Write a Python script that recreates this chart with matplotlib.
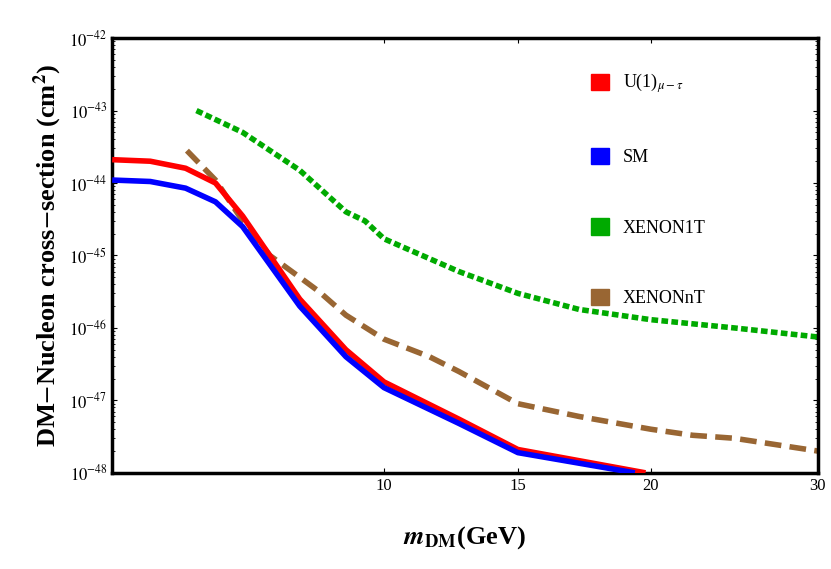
import numpy as np
import matplotlib
matplotlib.use("Agg")
import matplotlib.pyplot as plt
from matplotlib.patches import Patch

plt.rcParams["font.family"] = "Liberation Serif"
plt.rcParams["mathtext.fontset"] = "stix"

red_x = [0, 1.4, 2.7, 3.8, 4.8, 6.9, 8.6, 10, 12.8, 15, 19.8]
red_y = [2.1e-44, 2e-44, 1.6e-44, 1.0e-44, 3.5e-45, 2.5e-46, 5e-47, 1.8e-47, 5.5e-48, 2.1e-48, 1e-48]
blue_x = [0, 1.4, 2.7, 3.8, 4.8, 6.9, 8.6, 10, 12.8, 15, 19.4]
blue_y = [1.1e-44, 1.05e-44, 8.5e-45, 5.5e-45, 2.5e-45, 2.0e-46, 4e-47, 1.5e-47, 4.8e-48, 1.9e-48, 1e-48]
nt_x = [2.75, 3.8, 4.8, 5.8, 6.9, 7.6, 8.6, 10, 11.7, 12.8, 15, 17.3, 20, 22.5, 25, 30]
nt_y = [2.8e-44, 1.1e-44, 3e-45, 1e-45, 5e-46, 3.2e-46, 1.5e-46, 7e-47, 4e-47, 2.5e-47, 9e-48, 6e-48, 4e-48, 3.3e-48, 3e-48, 2e-48]
x1t_x = [3.1, 4.8, 6.9, 8.6, 9.3, 10, 12.8, 15, 17.3, 20, 25, 30]
x1t_y = [1e-43, 5e-44, 1.5e-44, 4e-45, 3e-45, 1.7e-45, 6e-46, 3e-46, 1.8e-46, 1.3e-46, 1e-46, 7.5e-47]
xticks = [10, 15, 20, 30]

anch_g = np.array([0.0, 10, 15, 20, 30])
anch_p = np.array([112.0, 384, 518, 651, 818])
def fwd(x):
    return np.interp(x, anch_g, anch_p)
def inv(p):
    return np.interp(p, anch_p, anch_g)

fig = plt.figure(figsize=(8.31, 5.69), dpi=100)
ax = fig.add_axes([0.135, 0.169, 0.849, 0.764])
ax.set_xscale("function", functions=(fwd, inv))
ax.set_yscale("log")

ax.plot(red_x, red_y, color="#ff0000", lw=4, solid_capstyle="butt", zorder=3)
ax.plot(blue_x, blue_y, color="#0000ff", lw=4, solid_capstyle="butt", zorder=3)
ax.plot(x1t_x, x1t_y, color="#00aa00", lw=4, linestyle=(0, (1.2, 0.6)), zorder=2)
ax.plot(nt_x, nt_y, color="#996633", lw=4, linestyle=(0, (3, 1.5)), zorder=2)

ax.set_xlim(0, 30)
ax.set_ylim(1e-48, 1e-42)
ax.set_xticks(xticks)
ax.set_xticklabels([str(t) for t in xticks])
ax.xaxis.set_minor_locator(matplotlib.ticker.FixedLocator([]))
ax.set_yticks([10.0**e for e in range(-48, -41)])
ax.set_yticklabels([r"$10^{%d}$" % e for e in range(-48, -41)])
ax.tick_params(which="both", direction="in", labelsize=12, top=True, right=True)
ax.tick_params(axis="y", which="minor", labelleft=False)
for s in ax.spines.values():
    s.set_linewidth(2.5)

ax.set_xlabel(r"$\boldsymbol{m}_{\mathbf{DM}}$(GeV)", fontsize=19, fontweight="bold", labelpad=22)
ax.set_ylabel(r"DM$-$Nucleon cross$-$section (cm$^{\mathbf{2}}$)", fontsize=19, fontweight="bold")

handles = [Patch(color="#ff0000"), Patch(color="#0000ff"), Patch(color="#00aa00"), Patch(color="#996633")]
labels = [r"U(1)$_{\mu-\tau}$", "SM", "XENON1T", "XENONnT"]
ax.legend(handles, labels, loc="upper left", bbox_to_anchor=(0.655, 0.96), frameon=False,
          fontsize=13, handlelength=1.0, handleheight=1.0, labelspacing=2.9)

fig.savefig("out.png", dpi=100)
